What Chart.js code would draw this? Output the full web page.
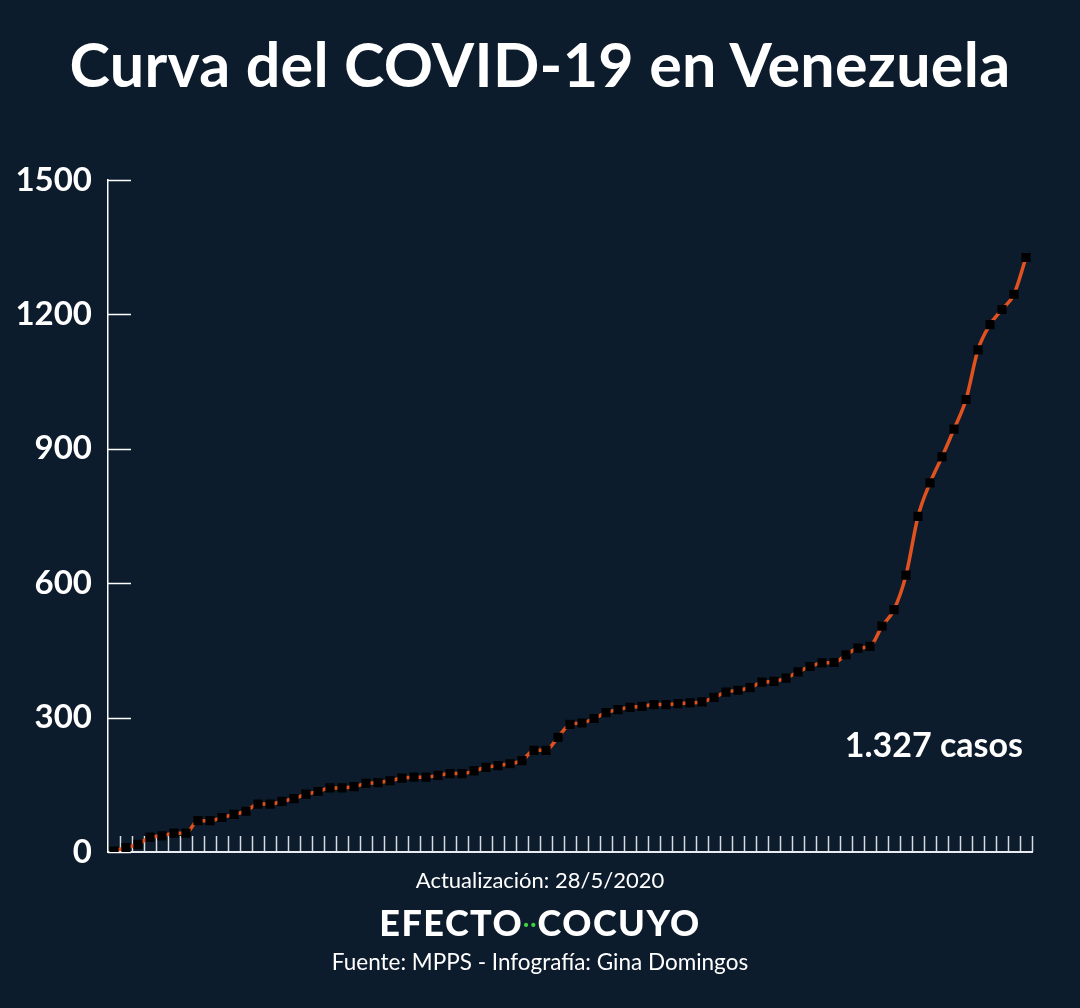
<!DOCTYPE html>
<html lang="es">
<head>
<meta charset="UTF-8">
<title>Curva del COVID-19 en Venezuela</title>
<script src="https://cdn.jsdelivr.net/npm/chart.js"></script>
<style>
    body {
        margin: 0;
        padding: 0;
        background: #0d1c2c;
        width: 1080px;
        height: 1008px;
        overflow: hidden;
        position: relative;
        font-family: Lato, "Open Sans", sans-serif;
        color: #fff;
    }
    #chart {
        position: absolute;
        left: 0;
        top: 0;
    }
    .txt {
        position: absolute;
        left: 0;
        width: 1080px;
        text-align: center;
        line-height: 1;
        white-space: nowrap;
    }
    #title {
        top: 33px;
        font-size: 61px;
        font-weight: 700;
        letter-spacing: 0.3px;
    }
    #casos {
        left: auto;
        width: auto;
        right: 57px;
        top: 727px;
        font-size: 34px;
        font-weight: 700;
    }
    #update {
        top: 869px;
        font-size: 22px;
    }
    #brand {
        top: 904px;
        font-size: 36px;
        font-weight: 900;
        letter-spacing: 1.5px;
    }
    #brand span { color: #3fd13f; font-size: 20px; vertical-align: 5px; }
    #source {
        top: 951px;
        font-size: 22.5px;
    }
</style>
</head>
<body>
<canvas id="chart" width="1080" height="1008"></canvas>
<div class="txt" id="title">Curva del COVID-19 en Venezuela</div>
<div class="txt" id="casos">1.327 casos</div>
<div class="txt" id="update">Actualización: 28/5/2020</div>
<div class="txt" id="brand">EFECTO<span>··</span>COCUYO</div>
<div class="txt" id="source">Fuente: MPPS - Infografía: Gina Domingos</div>

<script>
// días del 13/3 al 28/5/2020
var days = [];
var start = new Date(2020, 2, 13);
for (var i = 0; i < 77; i++) {
    var d = new Date(start.getFullYear(), start.getMonth(), start.getDate() + i);
    days.push(d.getDate() + '/' + (d.getMonth() + 1));
}

// casos acumulados (MPPS)
var cases = [
    2, 10, 17, 33, 36, 42, 42, 70, 70, 77,
    84, 91, 107, 107, 113, 119, 129, 135, 143, 143,
    146, 153, 155, 159, 165, 167, 167, 171, 175, 175,
    181, 189, 193, 197, 204, 227, 227, 256, 285, 288,
    298, 311, 318, 323, 325, 329, 329, 331, 333, 335,
    345, 357, 361, 367, 379, 381, 388, 402, 414, 422,
    423, 440, 455, 459, 504, 541, 618, 749, 824, 882,
    944, 1010, 1121, 1177, 1211, 1245, 1327
];

var yTicks = [0, 300, 600, 900, 1200, 1500];

// ticks pequeños hacia adentro, como en la infografía
var innerTicks = {
    id: 'innerTicks',
    beforeDatasetsDraw: function(chart) {
        var ctx = chart.ctx;
        var area = chart.chartArea;
        var x = chart.scales.x;
        var y = chart.scales.y;
        ctx.save();

        // marcas del eje x
        ctx.strokeStyle = '#d7dbe0';
        ctx.lineWidth = 1.5;
        var step = x.getPixelForValue(1) - x.getPixelForValue(0);
        for (var i = 0; i < days.length; i++) {
            var px = Math.round(x.getPixelForValue(i) + step / 2) + 0.5;
            ctx.beginPath();
            ctx.moveTo(px, area.bottom);
            ctx.lineTo(px, area.bottom - 16);
            ctx.stroke();
        }

        // línea base
        ctx.strokeStyle = '#e8ebef';
        ctx.lineWidth = 2;
        ctx.beginPath();
        ctx.moveTo(area.left, area.bottom);
        ctx.lineTo(area.right + 1, area.bottom);
        ctx.stroke();

        // marcas del eje y
        ctx.strokeStyle = '#ffffff';
        ctx.lineWidth = 1.5;
        yTicks.forEach(function(v) {
            var py = Math.round(y.getPixelForValue(v)) + 0.5;
            ctx.beginPath();
            ctx.moveTo(area.left, py);
            ctx.lineTo(area.left + 23, py);
            ctx.stroke();
        });
        ctx.restore();
    }
};

var ctx = document.getElementById('chart').getContext('2d');
var chart = new Chart(ctx, {
    type: 'line',
    data: {
        labels: days,
        datasets: [{
            label: 'Casos',
            data: cases,
            borderColor: '#e2521e',
            borderWidth: 3.5,
            cubicInterpolationMode: 'monotone',
            pointStyle: 'rect',
            pointRadius: 6.5,
            pointBackgroundColor: '#000000',
            pointBorderWidth: 0,
            fill: false
        }]
    },
    options: {
        responsive: false,
        animation: false,
        events: [],
        layout: {
            padding: { top: 180, bottom: 156, left: 0, right: 48 }
        },
        plugins: {
            legend: { display: false },
            tooltip: { enabled: false }
        },
        scales: {
            x: {
                type: 'category',
                offset: true,
                display: false
            },
            y: {
                min: 0,
                max: 1500,
                afterFit: function(scale) { scale.width = 108; },
                afterBuildTicks: function(scale) {
                    scale.ticks = yTicks.map(function(v) { return { value: v }; });
                },
                grid: { display: false, drawTicks: false },
                border: { display: true, color: '#ffffff', width: 1.5 },
                ticks: {
                    color: '#ffffff',
                    padding: 16,
                    font: { family: 'Lato', size: 33, weight: 'bold' },
                    callback: function(v) { return String(v); }
                }
            }
        }
    },
    plugins: [innerTicks]
});
</script>
</body>
</html>
